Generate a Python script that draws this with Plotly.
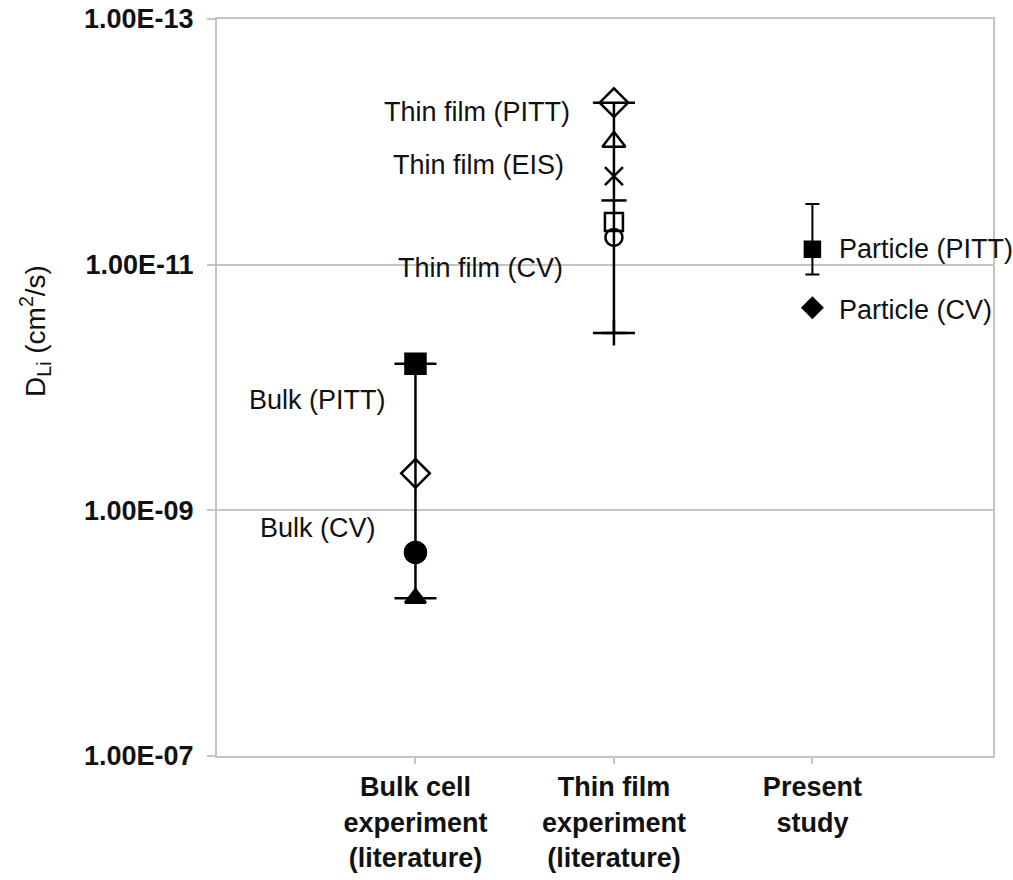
import numpy as np
import plotly.graph_objects as go

# ---------------- data ----------------
cat_x = [1, 2, 3]
cat_labels = [
    "<b>Bulk cell</b><br><b>experiment</b><br><b>(literature)</b>",
    "<b>Thin film</b><br><b>experiment</b><br><b>(literature)</b>",
    "<b>Present</b><br><b>study</b>",
]

y_tickvals = [1e-13, 1e-11, 1e-9, 1e-7]
y_ticktext = ["1.00E-13", "1.00E-11", "1.00E-09", "1.00E-07"]

# range (error bar) per category: smallest and largest D_Li
range_low = [6.4e-11, 4.8e-13, 3.2e-12]
range_high = [5.2e-9, 3.6e-11, 1.2e-11]

# Bulk cell experiment (literature)
bulk_symbols = ["square", "diamond-open", "circle", "triangle-up"]
bulk_values = [6.4e-11, 5.0e-10, 2.2e-9, 5.2e-9]

# Thin film experiment (literature)
thin_symbols = ["diamond-open", "triangle-up-open", "x-thin-open", "line-ew-open",
                "square-open", "circle-open", "cross-thin-open"]
thin_values = [4.8e-13, 1.0e-12, 1.9e-12, 3.0e-12, 4.5e-12, 6.0e-12, 3.6e-11]

# Present study
present_symbols = ["square", "diamond"]
present_values = [7.5e-12, 2.24e-11]

# text labels: (text, x position, D value, anchor)
label_texts = ["Thin film (PITT)", "Thin film (EIS)", "Thin film (CV)",
               "Bulk (PITT)", "Bulk (CV)", "Particle (PITT)", "Particle (CV)"]
label_x = [1.788, 1.758, 1.753, 0.861, 0.811, 3.123, 3.123]
label_y = [5.75e-13, 1.53e-12, 1.06e-11, 1.26e-10, 1.40e-9, 7.4e-12, 2.33e-11]
label_anchor = ["right", "right", "right", "right", "right", "left", "left"]

# ---------------- style ----------------
FONT = "Liberation Sans, Arial, sans-serif"
BLACK = "#000000"
GRID = "#c4c4c4"
cap_half = [21, 21, 7]
bar_thick = [2.5, 2.5, 2]

bulk_sizes = [20, 22, 21, 18]
thin_sizes = [22, 20, 18, 18, 18, 17, 18]
present_sizes = [15, 15]

fig = go.Figure()

# error bars (ranges)
for i in range(len(cat_x)):
    fig.add_trace(go.Scatter(
        x=[cat_x[i]], y=[range_low[i]], mode="markers",
        marker=dict(size=1, color="rgba(0,0,0,0)"),
        error_y=dict(type="data", symmetric=False,
                     array=[range_high[i] - range_low[i]], arrayminus=[0],
                     color=BLACK, thickness=bar_thick[i], width=cap_half[i]),
        showlegend=False, hoverinfo="skip"))


def add_markers(xv, values, symbols, sizes):
    for v, s, sz in zip(values, symbols, sizes):
        fig.add_trace(go.Scatter(
            x=[xv], y=[v], mode="markers",
            marker=dict(symbol=s, size=sz, color=BLACK,
                        line=dict(color=BLACK, width=2.5)),
            showlegend=False))


add_markers(cat_x[0], bulk_values, bulk_symbols, bulk_sizes)
add_markers(cat_x[1], thin_values, thin_symbols, thin_sizes)
add_markers(cat_x[2], present_values, present_symbols, present_sizes)

annotations = []
for t, lx, ly, an in zip(label_texts, label_x, label_y, label_anchor):
    annotations.append(dict(
        x=lx, y=np.log10(ly), xref="x", yref="y", text=t, showarrow=False,
        xanchor=an, yanchor="middle",
        font=dict(family=FONT, size=27, color="#111111")))

# y axis title
annotations.append(dict(
    x=(35 - 217) / 776, y=(756 - 331) / 737, xref="paper", yref="paper",
    text="D<sub>Li</sub> (cm<sup>2</sup>/s)", showarrow=False, textangle=-90,
    xanchor="center", yanchor="middle",
    font=dict(family=FONT, size=28, color="#111111")))

fig.update_layout(
    width=1013, height=880,
    margin=dict(l=217, r=20, t=19, b=124, autoexpand=False),
    paper_bgcolor="white", plot_bgcolor="white",
    showlegend=False,
    annotations=annotations,
    xaxis=dict(
        range=[0, 3.91], tickmode="array", tickvals=cat_x, ticktext=cat_labels,
        showgrid=False, zeroline=False, automargin=False,
        showline=True, mirror=True, linecolor=GRID, linewidth=2,
        ticks="outside", ticklen=6, tickwidth=1.5, tickcolor=GRID,
        ticklabelstandoff=0,
        tickfont=dict(family=FONT, size=27, color="#111111"),
    ),
    yaxis=dict(
        type="log", range=[-7, -13], tickmode="array", automargin=False,
        tickvals=y_tickvals, ticktext=["<b>%s</b>" % t for t in y_ticktext],
        showgrid=True, gridcolor=GRID, gridwidth=1.5, zeroline=False,
        showline=True, mirror=True, linecolor=GRID, linewidth=2,
        ticks="outside", ticklen=8, tickwidth=1.5, tickcolor=GRID,
        ticklabelstandoff=8,
        tickfont=dict(family=FONT, size=27, color="#111111"),
    ),
)

fig.write_html("out.html")
